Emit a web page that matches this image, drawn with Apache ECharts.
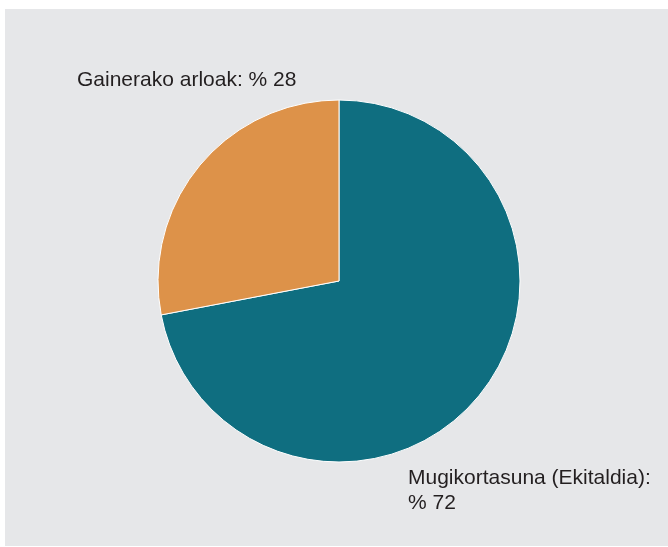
<!DOCTYPE html>
<html>
<head>
<meta charset="utf-8">
<script src="https://cdn.jsdelivr.net/npm/echarts@6/dist/echarts.min.js"></script>
<style>
html,body{margin:0;padding:0;background:#ffffff;}
#chart{width:668px;height:547px;}
</style>
</head>
<body>
<div id="chart"></div>
<script>
var categories = ['Mugikortasuna (Ekitaldia):', 'Gainerako arloak:'];
var values = [72, 28];
var labelTexts = ['Mugikortasuna (Ekitaldia):\n% 72', 'Gainerako arloak: % 28'];
var colors = ['#0f6e80', '#dd9249'];

var chart = echarts.init(document.getElementById('chart'), null, {renderer: 'canvas'});
var labelPos = [
  {x: 408, y: 491, align: 'left', verticalAlign: 'middle'},
  {x: 77, y: 80, align: 'left', verticalAlign: 'middle'}
];
chart.setOption({
  backgroundColor: '#ffffff',
  animation: false,
  graphic: [{
    type: 'rect', z: -10, silent: true,
    shape: {x: 5, y: 9, width: 663, height: 537},
    style: {fill: '#e6e7e9'}
  }],
  series: [{
    type: 'pie',
    center: [339, 281],
    radius: [0, 181],
    startAngle: 90,
    clockwise: true,
    avoidLabelOverlap: false,
    data: categories.map(function (c, i) {
      return {name: c, value: values[i], itemStyle: {color: colors[i]}};
    }),
    itemStyle: {borderColor: '#ffffff', borderWidth: 1},
    emphasis: {disabled: true},
    label: {
      show: true,
      position: 'outside',
      overflow: 'none',
      formatter: function (p) { return labelTexts[p.dataIndex]; },
      fontFamily: 'Liberation Sans, Arial, Helvetica, sans-serif',
      fontSize: 21,
      lineHeight: 25,
      color: '#231f20'
    },
    labelLine: {show: false},
    labelLayout: function (params) {
      return labelPos[params.dataIndex];
    }
  }]
});
</script>
</body>
</html>
